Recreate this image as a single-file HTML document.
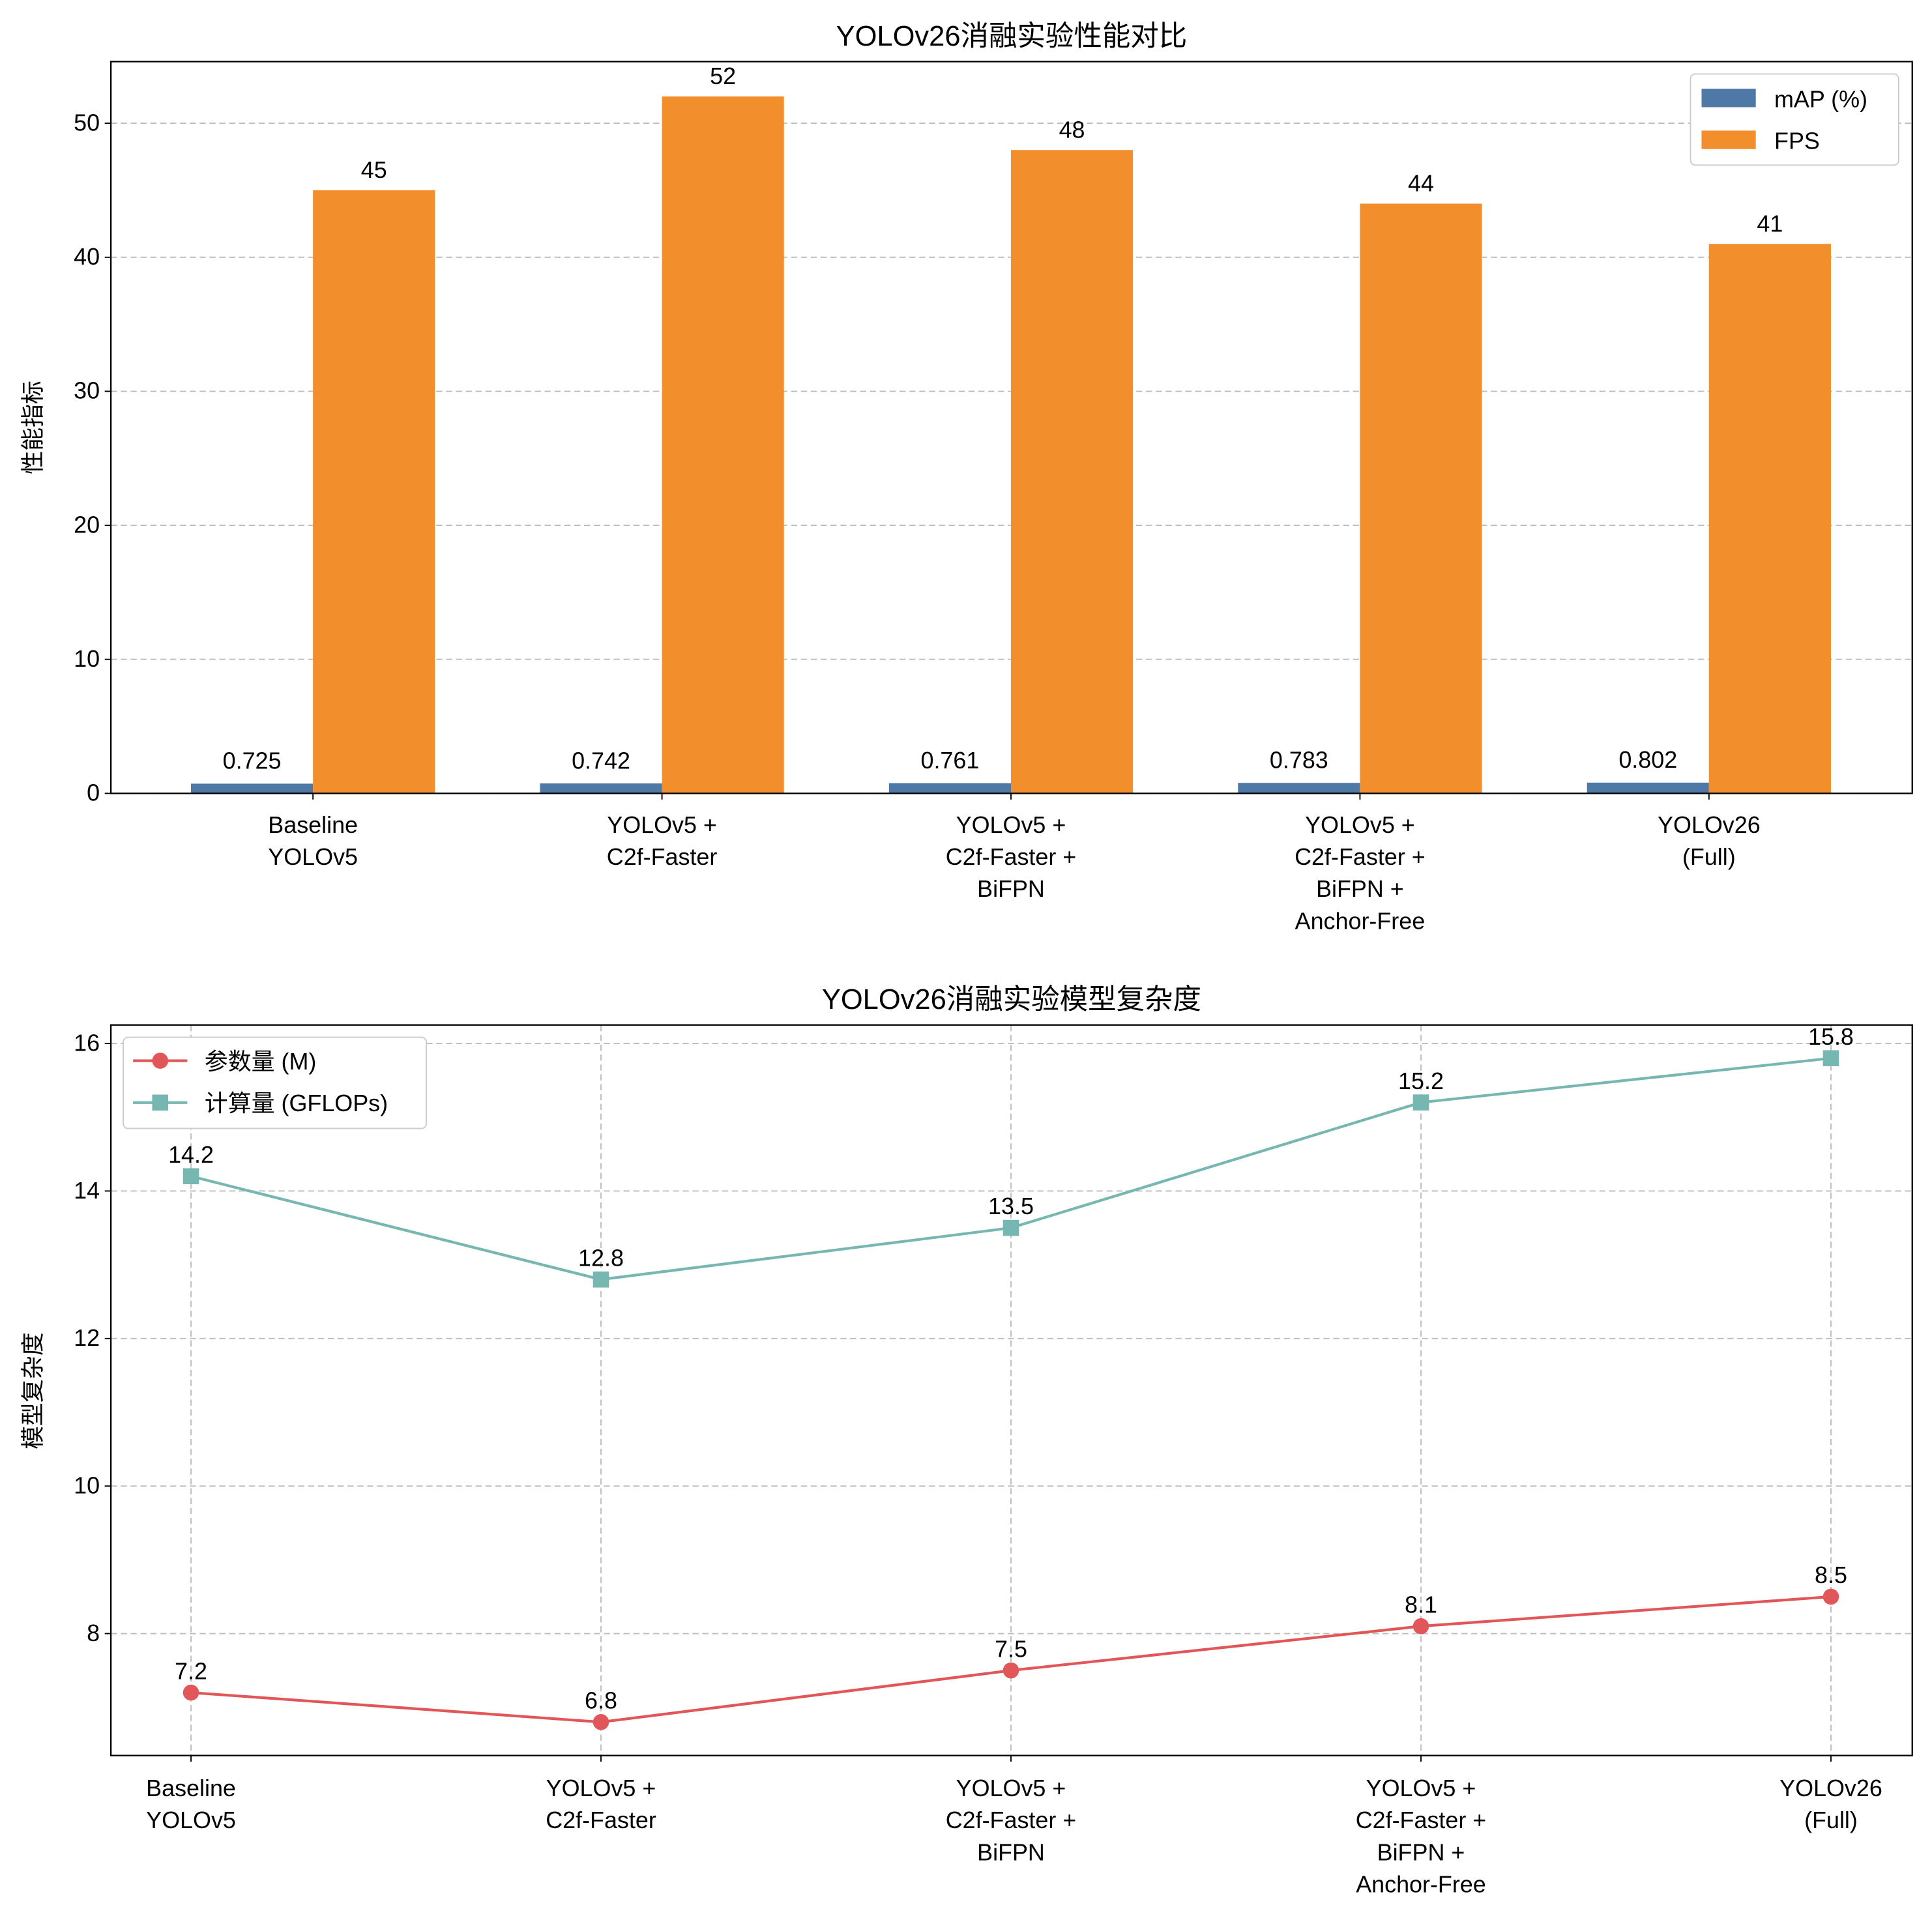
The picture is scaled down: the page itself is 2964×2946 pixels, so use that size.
<!DOCTYPE html>
<html><head><meta charset="utf-8">
<style>
html,body{margin:0;padding:0;background:#fff;}
svg{display:block;}
text{font-family:"Liberation Sans","Noto Sans CJK SC",sans-serif;fill:#000;}
</style></head>
<body>
<svg id="chart" width="2964" height="2946" viewBox="0 0 1568 1558.5" xmlns="http://www.w3.org/2000/svg"></svg>
<script>
const categories = [["Baseline","YOLOv5"],["YOLOv5 +","C2f-Faster"],["YOLOv5 +","C2f-Faster +","BiFPN"],["YOLOv5 +","C2f-Faster +","BiFPN +","Anchor-Free"],["YOLOv26","(Full)"]];
const mapValues = [0.725,0.742,0.761,0.783,0.802];
const fpsValues = [45,52,48,44,41];
const topTicks = [0,10,20,30,40,50];
const paramValues = [7.2,6.8,7.5,8.1,8.5];
const flopValues = [14.2,12.8,13.5,15.2,15.8];
const bottomTicks = [8,10,12,14,16];

const NS="http://www.w3.org/2000/svg";
const svg=document.getElementById('chart');
const FS=19;
function el(tag,attrs,parent){const e=document.createElementNS(NS,tag);for(const k in attrs)e.setAttribute(k,attrs[k]);(parent||svg).appendChild(e);return e;}
function txt(s,attrs,parent){const t=el('text',attrs,parent);t.textContent=s;return t;}

// ---------- Top chart ----------
const T={l:90,r:1552,t:50,b:644};
const yTop=v=>T.b-(v/54.6)*(T.b-T.t);
const n=categories.length;
const xT=i=>254+i*(1387-254)/(n-1);
const barW=99;
const gTop=el('g',{});


topTicks.forEach(v=>{
  const y=yTop(v);
  const g=el('line',{x1:T.l,x2:T.r,y1:y,y2:y,stroke:'#bdbdbd','stroke-dasharray':'5,3','stroke-width':1},gTop);
  
  
  el('line',{x1:T.l-5,x2:T.l,y1:y,y2:y,stroke:'#000'},gTop);
  const t=txt(String(v),{x:T.l-9,y:y+6,'text-anchor':'end','font-size':FS},gTop);
  
  
});
categories.forEach((c,i)=>{
  const cx=xT(i);
  const b1=el('rect',{x:cx-barW,y:yTop(mapValues[i]),width:barW,height:T.b-yTop(mapValues[i]),fill:'#4e79a7'},gTop);
  
  
  const b2=el('rect',{x:cx,y:yTop(fpsValues[i]),width:barW,height:T.b-yTop(fpsValues[i]),fill:'#f28e2b'},gTop);
  
  
  const l1=txt(mapValues[i].toFixed(3),{x:cx-barW/2,y:yTop(mapValues[i])-12,'text-anchor':'middle','font-size':FS},gTop);
  
  
  const l2=txt(String(fpsValues[i]),{x:cx+barW/2,y:yTop(fpsValues[i])-10,'text-anchor':'middle','font-size':FS},gTop);
  
  
  el('line',{x1:cx,x2:cx,y1:T.b,y2:T.b+5,stroke:'#000'},gTop);
  c.forEach((s,k)=>{
    const t=txt(s,{x:cx,y:T.b+32+k*26,'text-anchor':'middle','font-size':FS},gTop);
    
    
  });
});
const fr1=el('rect',{x:T.l,y:T.t,width:T.r-T.l,height:T.b-T.t,fill:'none',stroke:'#000','stroke-width':1.2},gTop);


const tt1=txt('YOLOv26消融实验性能对比',{x:821,y:37,'text-anchor':'middle','font-size':23},gTop);


const yl1=txt('性能指标',{x:0,y:0,'text-anchor':'middle','font-size':FS,transform:'translate(33,347) rotate(-90)'},gTop);


const lg1=el('g',{},gTop);


el('rect',{x:1372,y:60,width:169,height:74,rx:4,fill:'#fff',stroke:'#ccc'},lg1);
el('rect',{x:1381,y:72,width:44,height:15,fill:'#4e79a7'},lg1);
const le1=txt('mAP (%)',{x:1440,y:87,'font-size':FS},lg1);


el('rect',{x:1381,y:106,width:44,height:15,fill:'#f28e2b'},lg1);
const le2=txt('FPS',{x:1440,y:121,'font-size':FS},lg1);



// ---------- Bottom chart ----------
const B={l:90,r:1552,t:832,b:1425};
const yB=v=>1326-(v-8)*(1326-847)/8;
const xB=i=>155+i*(1486-155)/(n-1);
const gB=el('g',{});


bottomTicks.forEach(v=>{
  const y=yB(v);
  el('line',{x1:B.l,x2:B.r,y1:y,y2:y,stroke:'#bdbdbd','stroke-dasharray':'5,3'},gB);
  el('line',{x1:B.l-5,x2:B.l,y1:y,y2:y,stroke:'#000'},gB);
  const t=txt(String(v),{x:B.l-9,y:y+6,'text-anchor':'end','font-size':FS},gB);
  
  
});
categories.forEach((c,i)=>{
  const x=xB(i);
  el('line',{x1:x,x2:x,y1:B.t,y2:B.b,stroke:'#bdbdbd','stroke-dasharray':'5,3'},gB);
  el('line',{x1:x,x2:x,y1:B.b,y2:B.b+5,stroke:'#000'},gB);
  c.forEach((s,k)=>{
    const t=txt(s,{x:x,y:B.b+33+k*26,'text-anchor':'middle','font-size':FS},gB);
    
    
  });
});
function series(vals,color,marker,name){
  const pts=vals.map((v,i)=>xB(i)+','+yB(v)).join(' ');
  const pl=el('polyline',{points:pts,fill:'none',stroke:color,'stroke-width':2.2},gB);
  
  
  vals.forEach((v,i)=>{
    const x=xB(i),y=yB(v);
    let m;
    if(marker==='o') m=el('circle',{cx:x,cy:y,r:6.5,fill:color},gB);
    else m=el('rect',{x:x-6.5,y:y-6.5,width:13,height:13,fill:color},gB);
    
    
    const t=txt(v.toFixed(1),{x:x,y:y-11,'text-anchor':'middle','font-size':FS},gB);
    
    
  });
}
series(paramValues,'#e15759','o','params');
series(flopValues,'#76b7b2','s','gflops');
const fr2=el('rect',{x:B.l,y:B.t,width:B.r-B.l,height:B.b-B.t,fill:'none',stroke:'#000','stroke-width':1.2},gB);


const tt2=txt('YOLOv26消融实验模型复杂度',{x:821,y:819,'text-anchor':'middle','font-size':23},gB);


const yl2=txt('模型复杂度',{x:0,y:0,'text-anchor':'middle','font-size':FS,transform:'translate(33,1129) rotate(-90)'},gB);


const lg2=el('g',{},gB);


el('rect',{x:100,y:842,width:246,height:74,rx:4,fill:'#fff',stroke:'#ccc'},lg2);
el('line',{x1:108,x2:152,y1:861,y2:861,stroke:'#e15759','stroke-width':2.2},lg2);
el('circle',{cx:130,cy:861,r:6.5,fill:'#e15759'},lg2);
const le3=txt('参数量 (M)',{x:166,y:868,'font-size':FS},lg2);


el('line',{x1:108,x2:152,y1:895,y2:895,stroke:'#76b7b2','stroke-width':2.2},lg2);
el('rect',{x:123.5,y:888.5,width:13,height:13,fill:'#76b7b2'},lg2);
const le4=txt('计算量 (GFLOPs)',{x:166,y:902,'font-size':FS},lg2);


</script>
</body></html>
